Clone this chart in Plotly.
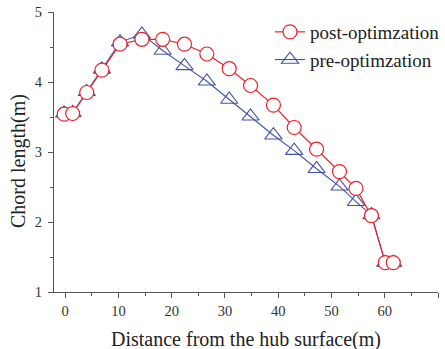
import plotly.graph_objects as go

distance = [-0.2, 1.4, 4.05, 6.9, 10.3, 14.4, 18.3, 22.4, 26.6, 30.8, 34.8,
            39.1, 43.0, 47.2, 51.5, 54.6, 57.5, 60.1, 61.6]
post_opt = [3.54, 3.55, 3.85, 4.17, 4.54, 4.61, 4.61, 4.54, 4.40, 4.19, 3.95,
            3.67, 3.35, 3.04, 2.72, 2.48, 2.09, 1.42, 1.42]
pre_opt = [3.55, 3.56, 3.86, 4.18, 4.57, 4.68, 4.45, 4.23, 4.01, 3.75, 3.51,
           3.24, 3.02, 2.76, 2.51, 2.29, 2.10, 1.42, 1.42]
x_ticks = [0, 10, 20, 30, 40, 50, 60, 70]
y_ticks = [1, 2, 3, 4, 5]

RED = "#e8232b"
BLUE = "#4453a6"
FONT = "Liberation Serif"

W, H = 445, 349
ML, MR, MT, MB = 54, 7, 12, 57
PW, PH = W - ML - MR, H - MT - MB

fig = go.Figure()
fig.add_trace(go.Scatter(
    x=distance, y=pre_opt, name="pre-optimzation", mode="lines+markers",
    line=dict(color=BLUE, width=1.1),
    marker=dict(symbol="triangle-up-open", size=15, color=BLUE, line=dict(width=1.1)),
    legendrank=2, legendgroup="pre",
))
fig.add_trace(go.Scatter(
    x=distance, y=post_opt, name="post-optimzation", mode="lines+markers",
    line=dict(color=RED, width=1.2),
    marker=dict(symbol="circle", size=14, color="white", line=dict(color=RED, width=1.2)),
    legendrank=1, legendgroup="post",
))

axis_common = dict(
    showline=True, linecolor="#555555", linewidth=1.3, mirror=False,
    ticks="outside", ticklen=5, tickwidth=1.2, tickcolor="#555555",
    showgrid=False, zeroline=False, automargin=False,
    tickfont=dict(family=FONT, size=14.5, color="#333333"),
    minor=dict(ticks="outside", ticklen=3, tickwidth=1.2, tickcolor="#555555"),
)

fig.update_xaxes(range=[-2.1, 70], tickvals=x_ticks, minor_dtick=5, **axis_common)
fig.update_yaxes(range=[1, 5], tickvals=y_ticks, minor_dtick=0.5,
                 ticklabelstandoff=3, **axis_common)

fig.update_layout(
    width=W, height=H,
    margin=dict(l=ML, r=MR, t=MT, b=MB, autoexpand=False),
    paper_bgcolor="white", plot_bgcolor="white",
    showlegend=True,
    legend=dict(x=(270 - ML) / PW, y=(H - MB - 13) / PH,
                xanchor="left", yanchor="top", tracegroupgap=0,
                font=dict(family=FONT, size=19, color="#222222"),
                bgcolor="rgba(0,0,0,0)", itemwidth=30, traceorder="grouped"),
    annotations=[
        dict(text="Distance from the hub surface(m)", xref="paper", yref="paper",
             x=0.5, y=(H - MB - 339) / PH, xanchor="center", yanchor="middle",
             showarrow=False, font=dict(family=FONT, size=20, color="#222222")),
        dict(text="Chord length(m)", xref="paper", yref="paper",
             x=(18 - ML) / PW, y=(H - MB - 161) / PH, xanchor="center", yanchor="middle",
             textangle=-90, showarrow=False,
             font=dict(family=FONT, size=20, color="#222222")),
    ],
)

fig.write_html(
    "out.html",
    config={"displayModeBar": False},
    post_script="document.body.style.margin='0px';document.body.style.overflow='hidden';",
)
